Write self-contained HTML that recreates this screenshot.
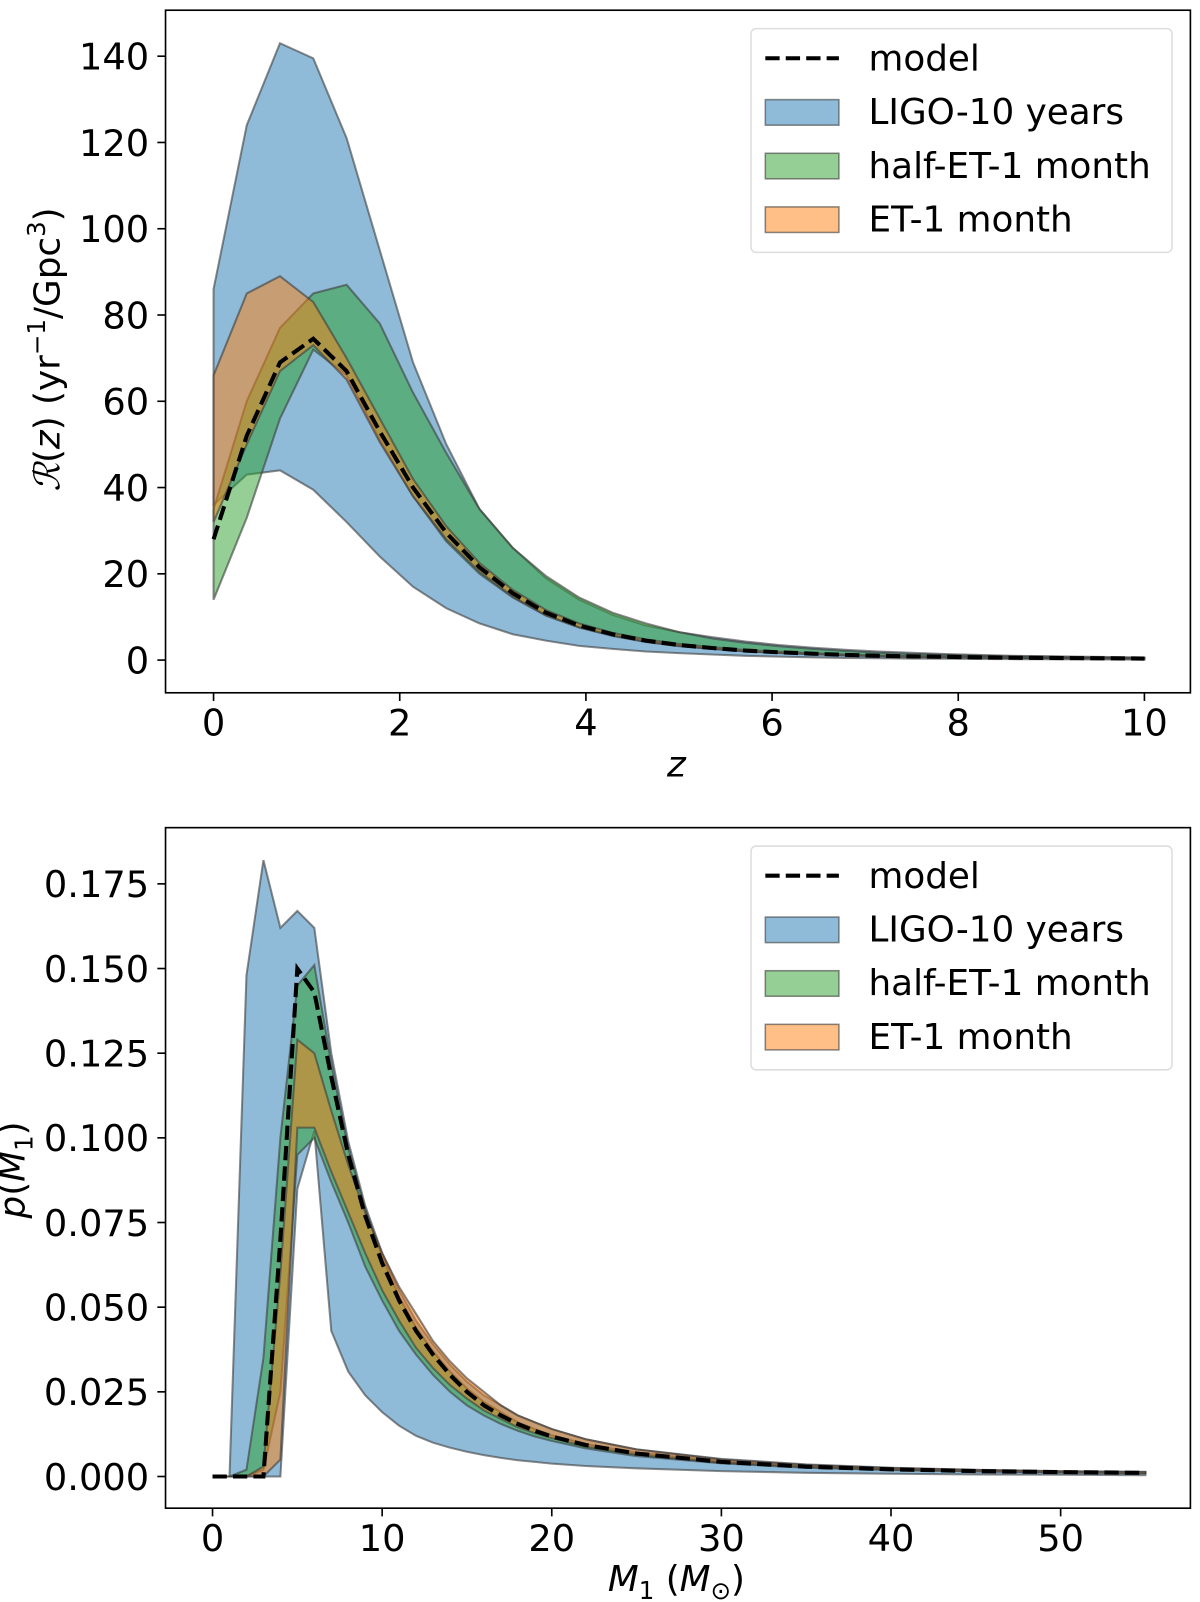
<!DOCTYPE html>
<html><head><meta charset="utf-8"><style>
body{margin:0;background:#fff}
svg{display:block;font-family:"DejaVu Sans","Liberation Sans",sans-serif}
</style></head><body>
<svg id="fig" width="1200" height="1602" viewBox="0 0 1200 1602">
<g id="root" transform="scale(1.0218)">
<text transform="translate(58,342) rotate(-90)" text-anchor="middle" font-size="35"><tspan font-family="DejaVu Serif" font-style="italic">ℛ</tspan>(<tspan font-style="italic">z</tspan>) (yr<tspan font-size="24" dy="-14">−1</tspan><tspan dy="14">/Gpc</tspan><tspan font-size="24" dy="-14">3</tspan><tspan dy="14">)</tspan></text>
<text x="662" y="760" text-anchor="middle" font-size="35" font-style="italic">z</text>
<text transform="translate(24,1145) rotate(-90)" text-anchor="middle" font-size="35"><tspan font-style="italic">p</tspan>(<tspan font-style="italic">M</tspan><tspan font-size="24" dy="8">1</tspan><tspan dy="-8">)</tspan></text>
<text x="662" y="1557" text-anchor="middle" font-size="35"><tspan font-style="italic">M</tspan><tspan font-size="24" dy="8">1</tspan><tspan dy="-8"> (</tspan><tspan font-style="italic">M</tspan><tspan font-size="24" dy="8">⊙</tspan><tspan dy="-8">)</tspan></text>
</g>
</svg>
<script>
// ---- top chart data ----
const zVals=[0,0.357,0.714,1.071,1.429,1.786,2.143,2.5,2.857,3.214,3.571,3.929,4.286,4.643,5,5.357,5.714,6.071,6.429,6.786,7.143,7.5,7.857,8.214,8.571,8.929,9.286,9.643,10];
const rModel=[28,52,69,74.5,67,53,40,29.5,21.5,15.5,11,8,6,4.5,3.5,2.8,2.2,1.8,1.5,1.2,1.0,0.85,0.75,0.65,0.55,0.5,0.45,0.4,0.35];
const rLigoUp=[86,124,143,139.5,121,95,69,50,35,26,19,14,10.5,8,6.5,5.3,4.3,3.5,2.9,2.4,2.0,1.7,1.4,1.2,1.0,0.9,0.8,0.7,0.6];
const rLigoLo=[36,43,44,39.5,32,24,17,12,8.5,6,4.5,3.3,2.6,2,1.6,1.3,1.0,0.8,0.65,0.5,0.42,0.35,0.3,0.25,0.22,0.19,0.17,0.15,0.13];
const rHalfUp=[35,60,77,85,87,78,62,48,35,26,19.5,14.5,11,8.5,6.5,5,4,3.2,2.6,2.1,1.7,1.4,1.2,1.0,0.85,0.75,0.65,0.57,0.5];
const rHalfLo=[14,33,56,72,66,51,38,27.5,20,14.5,10.3,7.5,5.6,4.2,3.2,2.6,2.0,1.65,1.4,1.1,0.92,0.78,0.69,0.6,0.5,0.46,0.41,0.37,0.32];
const rEtUp=[66,85,89,83,70,56,42,31,22.5,16.3,11.6,8.5,6.3,4.8,3.75,3.0,2.35,1.93,1.6,1.28,1.07,0.91,0.8,0.7,0.59,0.53,0.48,0.43,0.37];
const rEtLo=[32,50,67,73,65,50.5,38,28,20.5,14.7,10.4,7.6,5.7,4.3,3.3,2.6,2.05,1.67,1.4,1.12,0.93,0.79,0.7,0.6,0.51,0.46,0.42,0.37,0.33];
const zTicks=[0,2,4,6,8,10];
const rTicks=[0,20,40,60,80,100,120,140];
// ---- bottom chart data ----
const mVals=[0,1,2,3,4,5,6,7,8,9,10,11,12,13,14,15,16,17,18,19,20,22,25,30,35,40,45,50,55];
const pModel=[0,0,0,0,0.07,0.150,0.143,0.118,0.095,0.077,0.063,0.052,0.043,0.036,0.030,0.025,0.021,0.018,0.0155,0.0135,0.0118,0.0093,0.0068,0.0043,0.0029,0.0021,0.0016,0.0013,0.0011];
const pLigoUp=[0,0,0.148,0.182,0.162,0.167,0.162,0.125,0.099,0.080,0.066,0.055,0.046,0.039,0.033,0.028,0.024,0.021,0.018,0.016,0.014,0.011,0.008,0.0052,0.0036,0.0026,0.002,0.0016,0.0014];
const pLigoLo=[0,0,0,0,0,0.085,0.102,0.043,0.031,0.024,0.019,0.015,0.012,0.010,0.0085,0.0073,0.0063,0.0055,0.0048,0.0043,0.0038,0.0031,0.0024,0.0016,0.0011,0.0008,0.0006,0.0005,0.0004];
const pHalfUp=[0,0,0.002,0.035,0.10,0.145,0.151,0.122,0.097,0.079,0.065,0.053,0.044,0.037,0.031,0.026,0.022,0.019,0.016,0.014,0.0122,0.0096,0.007,0.0045,0.003,0.0022,0.0017,0.0014,0.0012];
const pHalfLo=[0,0,0,0.002,0.025,0.095,0.100,0.087,0.075,0.062,0.052,0.043,0.036,0.030,0.025,0.021,0.018,0.0155,0.0135,0.0118,0.0105,0.0083,0.006,0.0039,0.0026,0.0019,0.0015,0.0012,0.0010];
const pEtUp=[0,0,0,0.003,0.06,0.129,0.125,0.108,0.092,0.078,0.066,0.056,0.048,0.040,0.034,0.029,0.025,0.021,0.018,0.016,0.014,0.011,0.008,0.005,0.0034,0.0025,0.0019,0.0015,0.0013];
const pEtLo=[0,0,0,0,0.005,0.103,0.103,0.090,0.078,0.066,0.055,0.046,0.038,0.032,0.027,0.023,0.0195,0.017,0.0145,0.0128,0.0113,0.0088,0.0064,0.0041,0.0028,0.002,0.0015,0.0012,0.0010];
const mTicks=[0,10,20,30,40,50];
const pTicks=[0,0.025,0.05,0.075,0.1,0.125,0.15,0.175];
const pTickLabels=["0.000","0.025","0.050","0.075","0.100","0.125","0.150","0.175"];

const NS="http://www.w3.org/2000/svg";
const root=document.getElementById('root');
function mk(tag,attrs,parent){const e=document.createElementNS(NS,tag);for(const k in attrs)e.setAttribute(k,attrs[k]);(parent||root).appendChild(e);return e;}

function drawPanel(o){
  const g=mk('g',{});
  
  
  const sx=v=>o.px0+(v-o.x0)*(o.px1-o.px0)/(o.x1-o.x0);
  const sy=v=>o.py0+(v-o.y0)*(o.py1-o.py0)/(o.y1-o.y0);
  const bands=[
    {up:o.ligoUp,lo:o.ligoLo,c:'rgba(31,119,180,0.5)',n:'ligo-band'},
    {up:o.halfUp,lo:o.halfLo,c:'rgba(44,160,44,0.5)',n:'half-et-band'},
    {up:o.etUp,lo:o.etLo,c:'rgba(255,127,14,0.5)',n:'et-band'}];
  bands.forEach(b=>{
    let d='';
    o.xs.forEach((x,i)=>{d+=(i?'L':'M')+sx(x).toFixed(1)+','+sy(b.up[i]).toFixed(1);});
    for(let i=o.xs.length-1;i>=0;i--)d+='L'+sx(o.xs[i]).toFixed(1)+','+sy(b.lo[i]).toFixed(1);
    d+='Z';
    const p=mk('path',{d:d,fill:b.c,stroke:'rgba(60,60,60,0.6)','stroke-width':2},g);
    
    
  });
  let d='';
  o.xs.forEach((x,i)=>{d+=(i?'L':'M')+sx(x).toFixed(1)+','+sy(o.model[i]).toFixed(1);});
  const ml=mk('path',{d:d,fill:'none',stroke:'#000','stroke-width':4,'stroke-dasharray':'14,6'},g);
  
  
  const fr=mk('rect',{x:o.fx,y:o.fy,width:o.fw,height:o.fh,fill:'none',stroke:'#000','stroke-width':1.6},g);
  
  
  o.xt.forEach(t=>{
    const X=sx(t);
    mk('line',{x1:X,x2:X,y1:o.fy+o.fh,y2:o.fy+o.fh+8,stroke:'#000','stroke-width':1.6},g);
    const tx=mk('text',{x:X,y:o.fy+o.fh+42,'font-size':36,'text-anchor':'middle'},g);
    tx.textContent=t;
    
    
  });
  o.yt.forEach((t,i)=>{
    const Y=sy(t);
    mk('line',{x1:o.fx-8,x2:o.fx,y1:Y,y2:Y,stroke:'#000','stroke-width':1.6},g);
    const tx=mk('text',{x:o.fx-16,y:Y+13,'font-size':36,'text-anchor':'end'},g);
    tx.textContent=o.ytl?o.ytl[i]:t;
    
    
  });
  const lg=mk('g',{},g);
  
  
  mk('rect',{x:735,y:o.ly,width:412,height:219,rx:5,fill:'#fff','fill-opacity':0.8,stroke:'#ddd','stroke-width':1.5},lg);
  mk('line',{x1:749,x2:821,y1:o.ly+29,y2:o.ly+29,stroke:'#000','stroke-width':4,'stroke-dasharray':'14,6'},lg);
  const labs=['model','LIGO-10 years','half-ET-1 month','ET-1 month'];
  const cols=[null,'rgba(31,119,180,0.5)','rgba(44,160,44,0.5)','rgba(255,127,14,0.5)'];
  labs.forEach((l,i)=>{
    const yy=o.ly+29+i*52.5;
    if(cols[i])mk('rect',{x:749,y:yy-12,width:72,height:25,fill:cols[i],stroke:'rgba(60,60,60,0.6)','stroke-width':1.5},lg);
    const t=mk('text',{x:850,y:yy+12,'font-size':35},lg);
    t.textContent=l;
    
    
  });
}

drawPanel({name:'rate-chart',xs:zVals,model:rModel,ligoUp:rLigoUp,ligoLo:rLigoLo,halfUp:rHalfUp,halfLo:rHalfLo,etUp:rEtUp,etLo:rEtLo,
  x0:0,x1:10,px0:209,px1:1120,y0:0,y1:140,py0:646,py1:55,fx:162,fy:10,fw:1003,fh:668,xt:zTicks,yt:rTicks,ly:28});
drawPanel({name:'mass-chart',xs:mVals,model:pModel,ligoUp:pLigoUp,ligoLo:pLigoLo,halfUp:pHalfUp,halfLo:pHalfLo,etUp:pEtUp,etLo:pEtLo,
  x0:0,x1:50,px0:208,px1:1038,y0:0,y1:0.175,py0:1445,py1:865,fx:162,fy:810,fw:1003,fh:666,xt:mTicks,yt:pTicks,ytl:pTickLabels,ly:828});
</script>
</body></html>
